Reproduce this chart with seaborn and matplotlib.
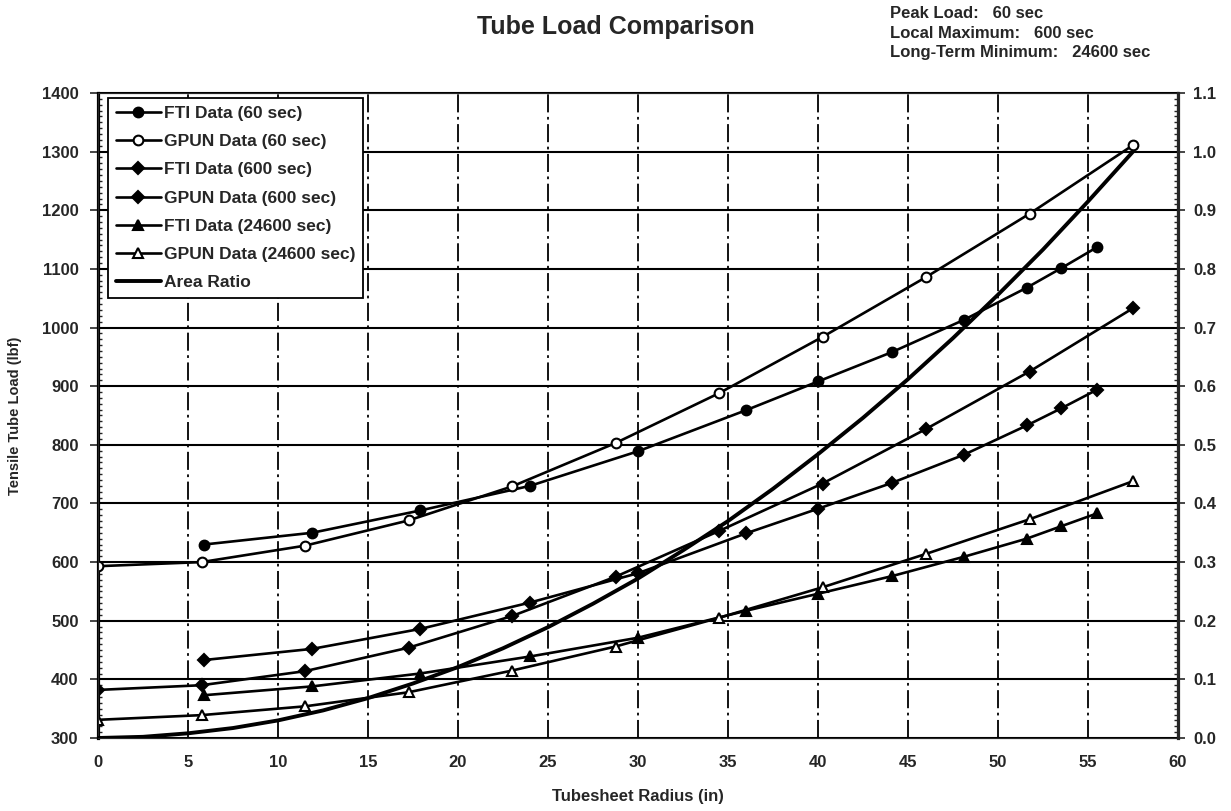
import matplotlib
matplotlib.use("Agg")
import matplotlib.pyplot as plt
from matplotlib.ticker import MultipleLocator, FormatStrFormatter
from matplotlib.lines import Line2D
import seaborn as sns

# Tubesheet radius positions (in)
fti_radius = [5.9, 11.9, 17.9, 24.0, 30.0, 36.0, 40.0, 44.1, 48.1, 51.6, 53.5, 55.5]
gpun_radius = [0.0, 5.75, 11.5, 17.25, 23.0, 28.75, 34.5, 40.25, 46.0, 51.75, 57.5]

# Tensile tube loads (lbf)
fti_60 = [630, 650, 688, 730, 789, 859, 908, 958, 1013, 1068, 1101, 1137]
gpun_60 = [593, 600, 628, 671, 729, 803, 888, 984, 1086, 1194, 1311]
fti_600 = [433, 452, 486, 531, 581, 649, 691, 735, 783, 833, 862, 894]
gpun_600 = [382, 390, 414, 454, 508, 575, 653, 734, 827, 925, 1033]
fti_24600 = [373, 388, 410, 439, 471, 517, 546, 576, 609, 640, 661, 683]
gpun_24600 = [331, 339, 354, 378, 415, 456, 505, 557, 614, 673, 738]

# Area ratio curve (right axis)
ratio_radius = [0.0, 2.5, 5.0, 7.5, 10.0, 12.5, 15.0, 17.5, 20.0, 22.5, 25.0, 27.5,
                30.0, 32.5, 35.0, 37.5, 40.0, 42.5, 45.0, 47.5, 50.0, 52.5, 55.0, 57.5]
area_ratio = [0.000, 0.002, 0.008, 0.017, 0.030, 0.047, 0.068, 0.093, 0.121, 0.153,
              0.189, 0.229, 0.272, 0.320, 0.370, 0.425, 0.484, 0.546, 0.612, 0.682,
              0.756, 0.833, 0.915, 1.000]

series_labels = ["FTI Data (60 sec)", "GPUN Data (60 sec)", "FTI Data (600 sec)",
                 "GPUN Data (600 sec)", "FTI Data (24600 sec)", "GPUN Data (24600 sec)"]
ratio_label = "Area Ratio"

title_text = "Tube Load Comparison"
note_lines = ["Peak Load:   60 sec", "Local Maximum:   600 sec", "Long-Term Minimum:   24600 sec"]
x_label = "Tubesheet Radius (in)"
y_label = "Tensile Tube Load (lbf)"

sns.set_style("white")
plt.rcParams["font.family"] = ["Liberation Sans", "DejaVu Sans"]
plt.rcParams["font.weight"] = "bold"

fig = plt.figure(figsize=(12.31, 8.11), dpi=100)
ax = fig.add_axes([98 / 1231, 1 - 738 / 811, 1080 / 1231, 645 / 811])

# grid
for yv in range(400, 1400, 100):
    ax.axhline(yv, color="black", lw=1.5, zorder=1)
for xv in range(5, 60, 5):
    ax.axvline(xv, color="black", lw=1.3, ls=(0, (10, 2.5, 1.5, 2.5)), zorder=1)

line_kw = dict(color="black", lw=1.9, ax=ax, legend=False, zorder=3)
specs = [
    (fti_radius, fti_60, dict(marker="o", markersize=7, markerfacecolor="black")),
    (gpun_radius, gpun_60, dict(marker="o", markersize=7, markerfacecolor="white")),
    (fti_radius, fti_600, dict(marker="D", markersize=6, markerfacecolor="black")),
    (gpun_radius, gpun_600, dict(marker="D", markersize=6, markerfacecolor="black")),
    (fti_radius, fti_24600, dict(marker="^", markersize=7.5, markerfacecolor="black")),
    (gpun_radius, gpun_24600, dict(marker="^", markersize=7.5, markerfacecolor="white")),
]
handles = []
for (xs, ys, mk), lab in zip(specs, series_labels):
    sns.lineplot(x=xs, y=ys, markeredgecolor="black", markeredgewidth=1.5, **mk, **line_kw)
    handles.append(Line2D([], [], color="black", lw=1.9, markeredgecolor="black",
                          markeredgewidth=1.5, label=lab, **mk))

ax.set_xlim(0, 60)
ax.set_ylim(300, 1400)
ax.xaxis.set_major_locator(MultipleLocator(5))
ax.yaxis.set_major_locator(MultipleLocator(100))
ax.yaxis.set_minor_locator(MultipleLocator(10))
ax.tick_params(axis="y", which="major", direction="out", length=6, width=1.2, labelsize=12, pad=8)
ax.tick_params(axis="y", which="minor", direction="in", length=3, width=1.0)
ax.tick_params(axis="x", which="major", length=0, labelsize=12, pad=12)
for s in ax.spines.values():
    s.set_color("black")
    s.set_linewidth(1.5)
ax.spines["left"].set_linewidth(2.3)
ax.set_xlabel(x_label, fontsize=12, fontweight="bold", labelpad=14)
ax.set_ylabel(y_label, fontsize=10.5, fontweight="bold", labelpad=14)

ax2 = ax.twinx()
sns.lineplot(x=ratio_radius, y=area_ratio, color="black", lw=2.8, ax=ax2, legend=False, zorder=4)
ax2.set_ylim(0, 1.1)
ax2.yaxis.set_major_locator(MultipleLocator(0.1))
ax2.yaxis.set_minor_locator(MultipleLocator(0.01))
ax2.yaxis.set_major_formatter(FormatStrFormatter("%.1f"))
ax2.tick_params(axis="y", which="major", direction="out", length=5, width=1.2, labelsize=12, pad=6)
ax2.tick_params(axis="y", which="minor", direction="in", length=3, width=1.0)
ax2.spines["right"].set_linewidth(2.3)
ax2.set_ylabel("")
handles.append(Line2D([], [], color="black", lw=2.8, label=ratio_label))

leg = ax2.legend(handles=handles, loc="upper left", bbox_to_anchor=(0.009, 0.992),
                 borderaxespad=0, fontsize=12.5, handlelength=2.6, handletextpad=0.2,
                 labelspacing=0.75, borderpad=0.45, frameon=True, fancybox=False)
leg.get_frame().set_edgecolor("black")
leg.get_frame().set_linewidth(1.3)
leg.get_frame().set_alpha(1)

fig.text(0.5, 1 - 27 / 811, title_text, ha="center", va="center", fontsize=18, fontweight="bold")
for i, t in enumerate(note_lines):
    fig.text(890 / 1231, 1 - (13 + 20 * i) / 811, t, ha="left", va="center", fontsize=12,
             fontweight="bold")

fig.savefig("out.png", dpi=100)
